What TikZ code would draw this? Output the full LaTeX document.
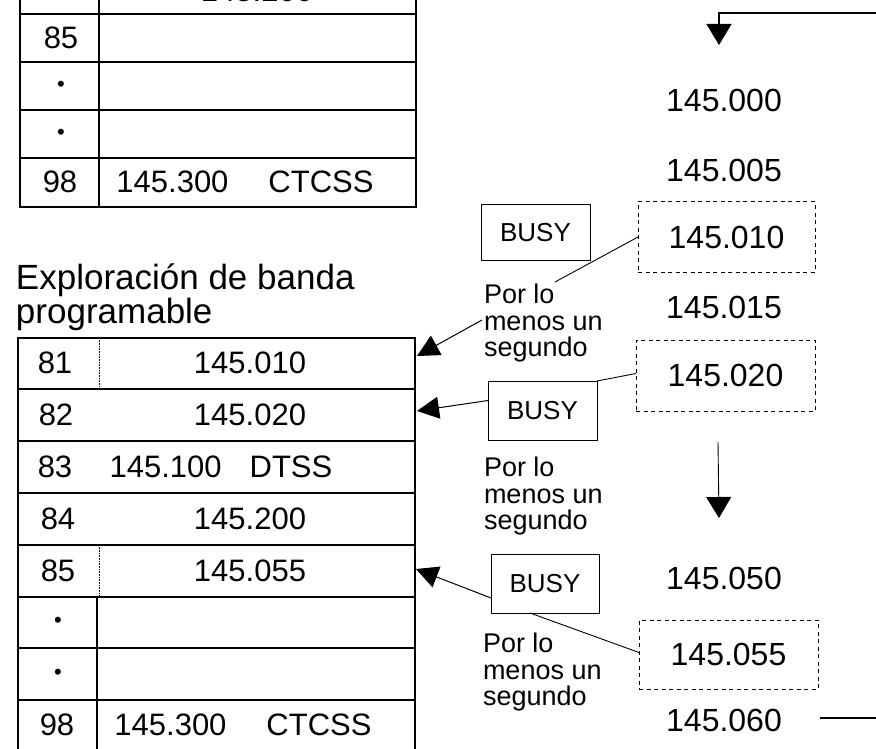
\documentclass[tikz,border=0pt]{standalone}
\usepackage{fontspec}
\setmainfont{Liberation Sans}
\usetikzlibrary{arrows.meta}
\begin{document}
\begin{tikzpicture}[x=1pt,y=-1pt,
  every node/.style={inner sep=0pt, outer sep=0pt},
  tline/.style={line width=1.3pt},
  ttext/.style={font=\fontsize{31}{31}\selectfont},
  bul/.style={font=\fontsize{22}{22}\selectfont},
  freq/.style={font=\fontsize{32}{32}\selectfont},
  dotbox/.style={draw, dash pattern=on 4pt off 3.5pt, line width=1pt, freq},
  busybox/.style={draw, line width=1pt, font=\fontsize{26}{26}\selectfont},
  note/.style={font=\fontsize{27}{26.5}\selectfont, align=left, anchor=north west},
  head/.style={font=\fontsize{35}{26}\selectfont, align=left, anchor=north west},
  lead/.style={line width=0.9pt},
  arr/.style={line width=1pt, -{Triangle[width=22pt,length=22pt]}},
  varr/.style={line width=1.2pt, -{Triangle[width=25pt,length=21pt]}}
]
\useasboundingbox (0,0) rectangle (876,749);

% ---------- top table ----------
\draw[tline] (20,-5) -- (20,207) -- (416,207) -- (416,-5);
\draw[tline] (99,-5) -- (99,207);
\foreach \y in {14,62,110,158} \draw[tline] (20,\y) -- (416,\y);
\node[ttext] (tt200) at (257,-9) {145.200};
\node[ttext] (tt85) at (61,38) {85};
\node[bul] (ttb1) at (61,86) {\textbullet};
\node[bul] (ttb2) at (61,134) {\textbullet};
\node[ttext] (tt98) at (60,182) {98};
\node[ttext] (tt300) at (245,182) {145.300\hspace{40pt}CTCSS};

% ---------- heading ----------
\node[head] (heading) at (16,264) {Exploración de banda\\programable};

% ---------- bottom table ----------
\draw[tline] (18,752) -- (18,338) -- (415,338) -- (415,752);
\foreach \y in {389,441,493,545,597,648,700} \draw[tline] (18,\y) -- (415,\y);
\draw[tline] (97,597) -- (97,752);
\draw[densely dotted, line width=0.6pt] (99,338) -- (99,389) (99,545) -- (99,597);
\node[ttext] (b81n) at (55,363) {81};
\node[ttext] (b81f) at (250,363) {145.010};
\node[ttext] (b82n) at (56,415) {82};
\node[ttext] (b82f) at (250,415) {145.020};
\node[ttext] (b83n) at (55,467) {83};
\node[ttext] (b83f) at (221,467) {145.100\hspace{28pt}DTSS};
\node[ttext] (b84n) at (58,519) {84};
\node[ttext] (b84f) at (250,519) {145.200};
\node[ttext] (b85n) at (58,571) {85};
\node[ttext] (b85f) at (250,571) {145.055};
\node[bul] (bb1) at (58,622) {\textbullet};
\node[bul] (bb2) at (58,674) {\textbullet};
\node[ttext] (b98n) at (57,725) {98};
\node[ttext] (b98f) at (243,725) {145.300\hspace{40pt}CTCSS};

% ---------- right column ----------
\node[freq] (f000) at (724,100) {145.000};
\node[freq] (f005) at (724,170) {145.005};
\node[dotbox, minimum width=177pt, minimum height=70pt] (box1) at (726.5,237) {145.010};
\node[freq] (f015) at (724,307) {145.015};
\node[dotbox, minimum width=179pt, minimum height=71pt] (box2) at (725.5,375.5) {145.020};
\node[freq] (f050) at (724,578) {145.050};
\node[dotbox, minimum width=179pt, minimum height=69pt] (box3) at (728.5,654.5) {145.055};
\node[freq] (f060) at (724,720) {145.060};

% ---------- BUSY boxes ----------
\node[busybox, minimum width=109pt, minimum height=55pt] (busy1) at (535.5,232.5) {BUSY};
\node[busybox, minimum width=109pt, minimum height=59pt] (busy2) at (542.5,410.5) {BUSY};
\node[busybox, minimum width=108pt, minimum height=59pt] (busy3) at (545,583.5) {BUSY};

% ---------- notes ----------
\node[note] (note1) at (484,284) {Por lo\\menos un\\segundo};
\node[note] (note2) at (484,457) {Por lo\\menos un\\segundo};
\node[note] (note3) at (483,633) {Por lo\\menos un\\segundo};

% ---------- connectors ----------
\coordinate (n1t) at (555,282);
\coordinate (n1m) at (482,320);
\coordinate (a1) at (417,356);
\coordinate (a2) at (417,411);
\coordinate (a3) at (416,569);
\coordinate (tin) at (880,13);
\coordinate (tip1) at (719,45);
\coordinate (vtop) at (718,442);
\coordinate (tip2) at (719,518);
\coordinate (eout) at (880,718);

\draw[lead] (box1.west) -- (n1t);
\draw[arr] (n1m) -- (a1);
\draw[lead] ([yshift=2pt]box2.west) -- (busy2.north east);
\draw[arr] ([yshift=10pt]busy2.west) -- (a2);
\draw[lead] ([yshift=2pt]box3.west) -- ([xshift=-15pt]busy3.south);
\draw[arr] ([yshift=-14.5pt]busy3.west) -- (a3);
\draw[varr] (tin) -| (tip1);
\draw[varr, line width=0.9pt] (vtop) -- (tip2);
\draw[lead, line width=1.1pt] ([xshift=38pt,yshift=2pt]f060.east) -- (eout);
\end{tikzpicture}
\end{document}
